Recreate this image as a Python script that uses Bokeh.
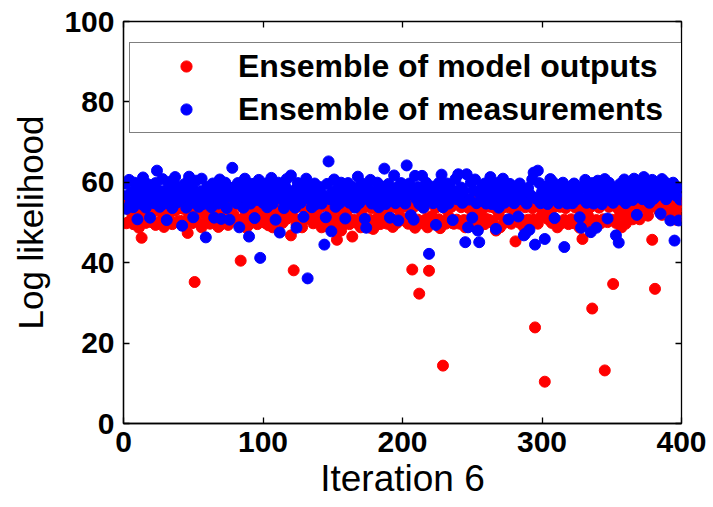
from bokeh.plotting import figure
from bokeh.models import (Range1d, FixedTicker, LinearAxis, Legend, LegendItem,
                          CustomJSTickFormatter)
from bokeh.embed import file_html
from bokeh.resources import INLINE

x_ticks = [0, 100, 200, 300, 400]
y_ticks = [0, 20, 40, 60, 80, 100]
x_title = "Iteration 6"
y_title = "Log likelihood"
label_model = "Ensemble of model outputs"
label_meas = "Ensemble of measurements"

model_outputs = [
    54.6, 49.8, 53.7, 50.2, 55.8, 52.4, 49.6, 54.9, 53.2, 51.5, 48.7, 55.3, 46.2, 52.8, 56.1, 49.9, 53.9, 50.8, 54.4, 50.1,
    52.6, 55.7, 49.4, 53.8, 54.9, 50.3, 52.7, 56.6, 48.9, 53.3, 55.2, 51.1, 50.5, 55.9, 49.6, 54.2, 52.9, 54.7, 50.2, 53.6,
    50.4, 54.8, 53.4, 49.1, 55.6, 47.4, 51.7, 54.3, 49.8, 53.9, 35.2, 55.4, 50.2, 52.9, 54.6, 48.8, 53.7, 52.3, 55.8, 50.4,
    53.5, 49.7, 54.9, 51.6, 55.7, 50.3, 53.6, 48.9, 49.3, 54.4, 52.6, 50.5, 55.9, 53.8, 49.4, 54.7, 50.6, 53.9, 51.8, 55.5,
    50.9, 54.6, 49.7, 40.5, 53.8, 55.6, 51.5, 48.7, 54.8, 49.5, 53.6, 50.9, 55.7, 52.7, 54.5, 49.6, 53.4, 50.9, 54.7, 51.6,
    55.8, 49.8, 53.7, 49.3, 54.6, 51.9, 48.8, 53.5, 55.9, 50.7, 52.8, 54.7, 53.6, 49.9, 52.7, 55.6, 50.9, 53.8, 54.9, 46.8,
    51.7, 38.1, 54.8, 49.6, 53.9, 55.7, 50.6, 48.8, 54.5, 53.7, 50.9, 55.8, 52.8, 51.7, 54.6, 49.8, 53.5, 51.9, 55.6, 50.5,
    53.8, 48.8, 50.6, 54.7, 49.5, 55.9, 53.7, 48.6, 51.9, 54.8, 49.7, 53.6, 45.7, 50.5, 55.8, 48.0, 51.9, 54.6, 49.8, 52.7,
    54.9, 49.6, 53.8, 46.5, 50.7, 55.8, 49.9, 54.7, 53.5, 48.8, 51.6, 55.9, 49.7, 53.9, 54.8, 50.8, 48.7, 53.6, 48.4, 55.7,
    50.8, 54.7, 52.9, 49.6, 50.8, 55.7, 51.6, 54.9, 49.7, 53.8, 55.6, 50.7, 48.9, 54.8, 53.7, 49.9, 55.8, 51.5, 54.6, 50.6,
    53.9, 50.8, 55.7, 49.7, 54.9, 51.6, 38.3, 53.8, 48.7, 55.9, 50.7, 32.3, 54.6, 49.8, 53.7, 55.6, 50.9, 48.8, 38.0, 54.7,
    51.6, 54.8, 49.9, 53.7, 55.8, 50.8, 48.6, 54.9, 14.4, 53.6, 49.7, 55.7, 51.5, 54.6, 53.9, 49.8, 49.7, 54.7, 50.7, 55.9,
    49.7, 53.8, 54.9, 50.6, 48.8, 55.7, 53.7, 49.9, 54.8, 51.7, 55.6, 49.8, 53.6, 54.7, 48.9, 51.8, 55.9, 53.5, 49.6, 50.9,
    54.8, 50.7, 53.9, 55.7, 49.8, 53.6, 48.0, 54.7, 51.9, 48.8, 55.8, 53.7, 49.9, 54.6, 50.6, 53.8, 55.9, 49.7, 54.9, 51.8,
    45.3, 53.7, 55.8, 49.9, 54.8, 50.6, 48.9, 53.8, 55.7, 50.7, 49.8, 54.9, 53.6, 50.8, 23.9, 55.9, 49.7, 53.9, 54.7, 51.9,
    53.8, 10.4, 54.7, 50.9, 51.7, 55.8, 49.9, 53.7, 54.9, 50.6, 48.8, 55.6, 53.9, 49.8, 54.8, 50.7, 53.6, 55.9, 49.6, 54.6,
    50.8, 54.9, 49.8, 53.7, 55.7, 50.9, 48.7, 54.8, 45.9, 53.6, 49.9, 55.8, 51.7, 54.6, 53.9, 28.6, 49.7, 55.9, 50.6, 54.7,
    53.7, 49.8, 54.9, 50.8, 13.2, 55.7, 50.1, 53.9, 54.8, 50.7, 34.7, 55.8, 49.9, 53.6, 54.7, 51.9, 48.8, 55.9, 53.8, 49.7,
    54.8, 51.9, 55.9, 53.7, 50.8, 54.7, 56.8, 52.6, 55.7, 50.8, 54.9, 56.6, 53.9, 55.8, 54.6, 51.7, 56.9, 53.8, 45.7, 55.6,
    33.5, 54.8, 56.7, 52.9, 55.8, 51.9, 54.7, 56.8, 53.7, 55.9, 51.8, 54.9, 56.6, 52.8, 55.7, 50.7, 54.6, 53.9, 52.6, 55.8,
]

measurements = [
    59.7, 53.4, 56.8, 60.6, 54.9, 57.7, 53.8, 59.9, 55.6, 50.8, 58.8, 56.7, 54.6, 61.2, 57.9, 53.7, 59.6, 55.8, 51.2, 58.7,
    56.6, 54.8, 59.8, 62.9, 55.7, 53.9, 57.8, 60.8, 54.7, 56.9, 50.6, 58.6, 55.9, 60.2, 53.6, 57.7, 61.3, 54.9, 56.8, 58.9,
    55.8, 49.2, 57.9, 59.6, 53.7, 56.6, 61.4, 54.8, 58.7, 51.3, 56.9, 60.4, 55.7, 53.9, 57.8, 60.9, 54.6, 56.7, 46.3, 58.8,
    55.9, 57.6, 53.8, 59.7, 51.2, 56.8, 58.9, 54.7, 60.7, 50.9, 57.7, 55.8, 59.9, 53.6, 56.9, 50.7, 58.6, 63.6, 55.7, 57.9,
    54.8, 59.8, 48.8, 56.7, 58.9, 53.7, 60.9, 55.9, 57.8, 46.5, 54.7, 59.6, 56.8, 51.1, 58.7, 55.6, 60.6, 41.2, 57.7, 54.9,
    56.9, 59.7, 53.8, 57.6, 55.8, 61.1, 54.7, 58.8, 50.7, 56.7, 59.9, 47.5, 57.9, 55.7, 53.6, 58.9, 60.8, 54.8, 56.6, 61.7,
    55.8, 57.9, 53.7, 48.7, 59.8, 56.6, 54.9, 58.7, 51.4, 57.7, 60.9, 36.1, 55.9, 58.6, 53.8, 56.8, 59.7, 54.6, 57.8, 55.6,
    58.8, 54.7, 56.9, 44.5, 51.3, 59.6, 65.2, 55.8, 47.8, 57.6, 60.7, 53.9, 56.7, 58.9, 54.8, 59.9, 55.7, 57.8, 51.0, 56.6,
    59.8, 54.9, 57.7, 55.6, 58.8, 53.7, 56.9, 61.4, 54.8, 57.9, 59.7, 55.8, 50.9, 48.7, 58.6, 56.8, 60.6, 54.7, 57.6, 55.9,
    56.7, 59.9, 53.8, 57.8, 55.7, 58.9, 63.4, 54.6, 56.8, 59.6, 51.2, 57.7, 55.9, 61.7, 54.8, 58.7, 50.5, 56.6, 59.8, 55.6,
    57.9, 54.7, 64.2, 56.8, 59.7, 51.8, 57.6, 50.7, 61.6, 55.8, 58.8, 54.6, 56.9, 61.6, 53.7, 57.8, 59.9, 55.7, 42.2, 56.7,
    58.9, 54.8, 57.7, 49.4, 55.9, 59.8, 56.6, 61.9, 53.8, 57.9, 55.6, 59.7, 54.7, 58.8, 56.9, 50.6, 57.6, 60.8, 55.8, 62.0,
    56.8, 58.7, 54.9, 57.8, 45.1, 62.0, 48.8, 55.7, 59.9, 51.2, 57.9, 60.7, 54.8, 48.0, 45.1, 56.9, 58.8, 55.6, 59.7, 54.7,
    57.7, 55.9, 61.3, 54.6, 58.9, 56.7, 48.4, 59.8, 53.7, 57.6, 55.8, 60.9, 54.9, 58.7, 56.8, 50.8, 59.6, 55.7, 57.9, 54.8,
    58.8, 56.9, 51.5, 59.7, 55.8, 57.7, 46.8, 47.2, 54.7, 58.6, 48.2, 56.8, 60.7, 62.4, 44.5, 55.9, 62.9, 59.8, 54.8, 57.6,
    56.7, 45.9, 58.9, 54.6, 57.8, 60.8, 55.7, 60.0, 51.1, 56.9, 58.7, 54.8, 57.6, 55.9, 59.9, 43.9, 56.8, 54.7, 58.8, 55.6,
    57.9, 54.8, 59.7, 59.2, 55.8, 56.7, 51.3, 48.7, 58.9, 55.7, 60.6, 54.9, 57.8, 56.6, 47.6, 59.8, 54.7, 57.7, 48.7, 60.4,
    55.9, 58.8, 54.6, 57.9, 60.8, 56.8, 51.0, 59.9, 55.8, 57.6, 54.9, 58.7, 46.8, 56.9, 45.0, 59.6, 55.7, 57.8, 60.7, 54.8,
    57.8, 59.9, 56.7, 58.8, 55.6, 60.9, 57.9, 51.9, 59.7, 56.9, 58.6, 55.8, 61.3, 57.7, 59.8, 56.6, 54.9, 58.9, 60.6, 55.9,
    57.6, 59.7, 56.8, 58.9, 52.2, 60.8, 57.9, 60.1, 55.8, 58.7, 56.9, 50.5, 57.7, 59.9, 45.5, 56.7, 58.8, 50.5, 55.7, 57.9,
]

iter_model = list(range(1, len(model_outputs) + 1))
iter_meas = list(range(1, len(measurements) + 1))

FONT = "Liberation Sans"

p = figure(width=713, height=507, output_backend="svg", toolbar_location=None,
           x_range=Range1d(0, 400), y_range=Range1d(0, 100),
           min_border_left=123, min_border_right=32, min_border_top=21,
           min_border_bottom=84)
p.background_fill_color = "white"
p.border_fill_color = "white"
p.xgrid.grid_line_color = None
p.ygrid.grid_line_color = None
p.outline_line_color = "black"
p.outline_line_width = 1.3

r_model = p.scatter(iter_model, model_outputs, size=11, color="#ff0000", line_color="#ff0000")
r_meas = p.scatter(iter_meas, measurements, size=11, color="#0000ff", line_color="#0000ff")

for ax, ticks in ((p.xaxis[0], x_ticks), (p.yaxis[0], y_ticks)):
    ax.ticker = FixedTicker(ticks=ticks)
    ax.major_tick_in = 6
    ax.major_tick_out = 0
    ax.minor_tick_line_color = None
    ax.axis_line_color = "black"
    ax.axis_line_width = 1.3
    ax.major_tick_line_width = 1.3
    ax.major_label_text_font = FONT
    ax.major_label_text_font_style = "bold"
    ax.major_label_text_font_size = "30px"
    ax.major_label_text_color = "black"
    ax.axis_label_text_font = FONT
    ax.axis_label_text_font_style = "normal"
    ax.axis_label_text_color = "black"

p.xaxis[0].axis_label = x_title
p.xaxis[0].axis_label_text_font_size = "37px"
p.xaxis[0].major_label_standoff = 8
p.xaxis[0].axis_label_standoff = 3
p.yaxis[0].axis_label = y_title
p.yaxis[0].axis_label_text_font_size = "35px"
p.yaxis[0].major_label_standoff = 9
p.yaxis[0].axis_label_standoff = 11

blank = CustomJSTickFormatter(code="return ''")
top = LinearAxis(ticker=FixedTicker(ticks=x_ticks), formatter=blank,
                 major_tick_in=6, major_tick_out=0, minor_tick_line_color=None,
                 axis_line_color=None, major_tick_line_width=1.3,
                 major_label_standoff=0, major_label_text_font_size="1px")
right = LinearAxis(ticker=FixedTicker(ticks=y_ticks), formatter=blank,
                   major_tick_in=6, major_tick_out=0, minor_tick_line_color=None,
                   axis_line_color=None, major_tick_line_width=1.3,
                   major_label_standoff=0, major_label_text_font_size="1px")
p.add_layout(top, "above")
p.add_layout(right, "right")

legend = Legend(items=[LegendItem(label=label_model, renderers=[r_model]),
                       LegendItem(label=label_meas, renderers=[r_meas])],
                location=(6, 290), orientation="vertical",
                padding=4, spacing=5, margin=0,
                glyph_width=104, glyph_height=28, label_height=38, label_width=440,
                label_standoff=-3,
                label_text_font=FONT, label_text_font_style="bold",
                label_text_font_size="32px", label_text_color="black",
                border_line_color="black", border_line_width=1.2,
                background_fill_color="white", background_fill_alpha=1.0)
p.add_layout(legend, "center")

open("out.html", "w").write(file_html(p, INLINE))
